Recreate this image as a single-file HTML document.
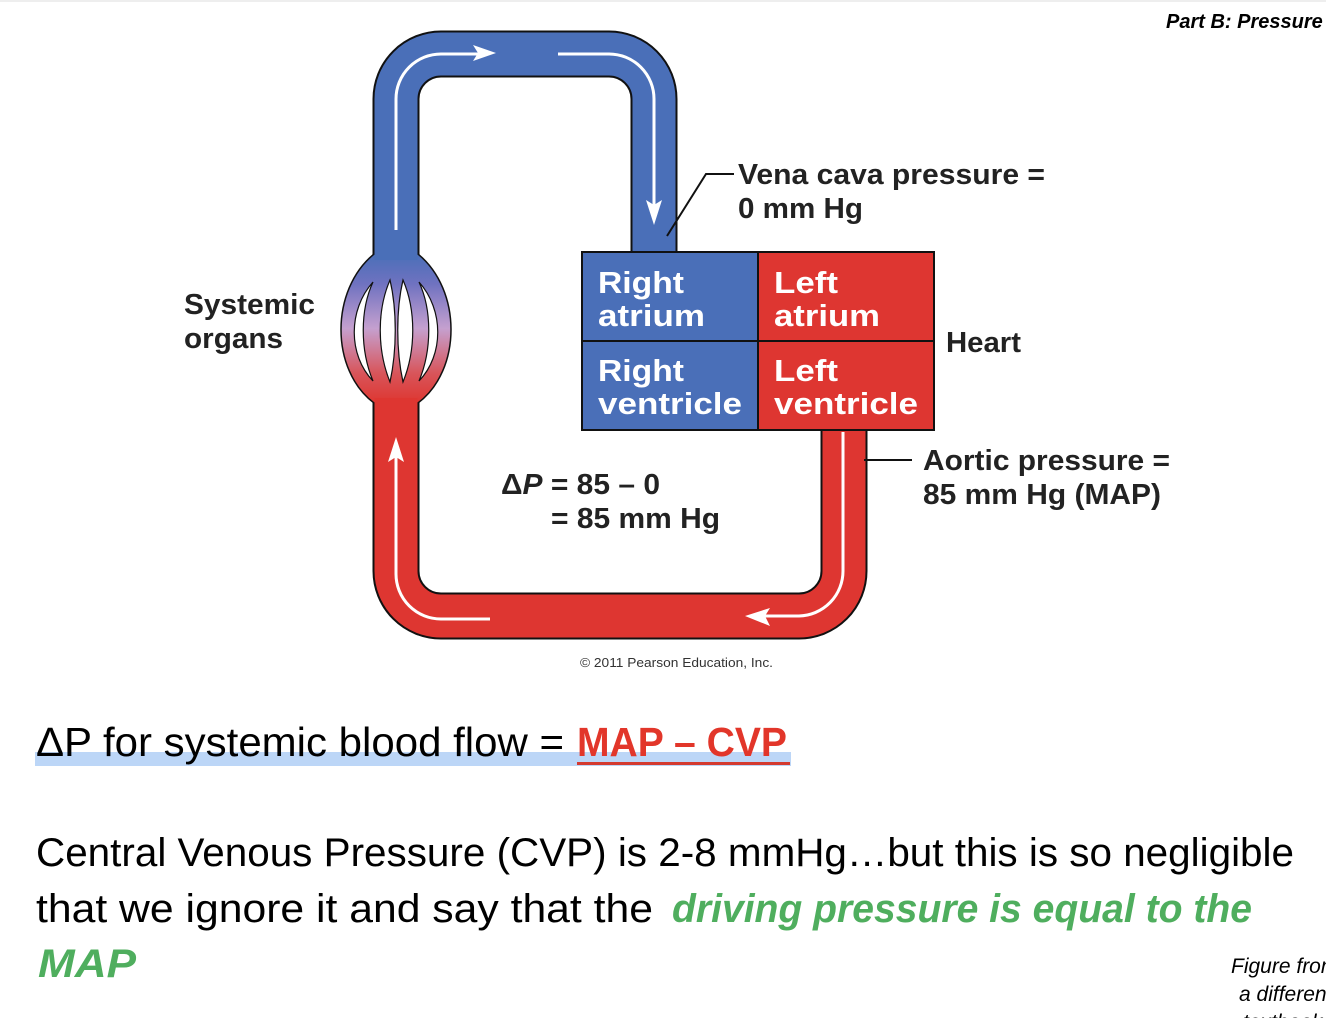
<!DOCTYPE html>
<html><head><meta charset="utf-8"><style>
html,body{margin:0;padding:0;background:#fff;}
svg{display:block;}
text{font-family:"Liberation Sans",Arial,sans-serif;}
</style></head><body>
<svg width="1326" height="1018" viewBox="0 0 1326 1018" xmlns="http://www.w3.org/2000/svg">
<defs>
<linearGradient id="bulb" x1="0" y1="0" x2="0" y2="1">
<stop offset="0" stop-color="#4a6fb8"/>
<stop offset="0.2" stop-color="#6f72c0"/>
<stop offset="0.5" stop-color="#c5a0cf"/>
<stop offset="0.8" stop-color="#d8555a"/>
<stop offset="1" stop-color="#de3631"/>
</linearGradient>
</defs>
<rect x="0" y="0" width="1326" height="2" fill="#eee"/>
<text x="1166" y="28" font-size="20" font-weight="bold" font-style="italic">Part B: Pressure</text>

<path d="M396,270 V99 A45,45 0 0 1 441,54 H609 A45,45 0 0 1 654,99 V254" fill="none" stroke="#111" stroke-width="47"/>
<path d="M396,272 V99 A45,45 0 0 1 441,54 H609 A45,45 0 0 1 654,99 V256" fill="none" stroke="#4a6fb8" stroke-width="43"/>
<path d="M396,390 V571 A45,45 0 0 0 441,616 H799 A45,45 0 0 0 844,571 V428" fill="none" stroke="#111" stroke-width="47"/>
<path d="M396,388 V571 A45,45 0 0 0 441,616 H799 A45,45 0 0 0 844,571 V426" fill="none" stroke="#de3631" stroke-width="43"/>
<path d="M374,254 C330,290 330,370 374,403 H418 C462,370 462,290 418,254 Z" fill="url(#bulb)" stroke="#111" stroke-width="1.5"/>
<rect x="374.5" y="240" width="43" height="20" fill="#4a6fb8"/>
<rect x="374.5" y="398" width="43" height="20" fill="#de3631"/>
<g fill="#fff" stroke="#111" stroke-width="1.2">
<path d="M373,282 C348,310 348,355 373,381 C360,350 360,310 373,282Z"/>
<path d="M390,280 C377,310 377,350 390,382 C397,350 397,310 390,280Z"/>
<path d="M403,280 C416,310 416,350 403,382 C396,350 396,310 403,280Z"/>
<path d="M419,282 C444,310 444,355 419,381 C432,350 432,310 419,282Z"/>
</g>
<g fill="none" stroke="#fff" stroke-width="3">
<path d="M396,230 V99 A45,45 0 0 1 441,54 H480"/>
<path d="M558,54 H609 A45,45 0 0 1 654,99 V210"/>
<path d="M843,432 V571 A45,45 0 0 1 799,616 H760"/>
<path d="M490,619 H441 A45,45 0 0 1 396,574 V455"/>
</g>
<g fill="#fff">
<path d="M473,45 L496,53 L473,61 L478,53Z"/>
<path d="M646,200 L654,225 L662,200 L654,205Z"/>
<path d="M770,608 L745,616 L770,626 L765,616Z"/>
<path d="M388,462 L396,437 L404,462 L396,457Z"/>
</g>

<rect x="582" y="252" width="176" height="178" fill="#4a6fb8" stroke="#111" stroke-width="2"/>
<rect x="758" y="252" width="176" height="178" fill="#de3631" stroke="#111" stroke-width="2"/>
<line x1="582" y1="341" x2="934" y2="341" stroke="#111" stroke-width="2"/>
<g fill="#fff" font-weight="bold" font-size="31">
<text x="598" y="293" textLength="86" lengthAdjust="spacingAndGlyphs">Right</text><text x="598" y="326" textLength="107" lengthAdjust="spacingAndGlyphs">atrium</text>
<text x="598" y="381" textLength="86" lengthAdjust="spacingAndGlyphs">Right</text><text x="598" y="414" textLength="144" lengthAdjust="spacingAndGlyphs">ventricle</text>
<text x="774" y="293" textLength="64" lengthAdjust="spacingAndGlyphs">Left</text><text x="774" y="326" textLength="106" lengthAdjust="spacingAndGlyphs">atrium</text>
<text x="774" y="381" textLength="64" lengthAdjust="spacingAndGlyphs">Left</text><text x="774" y="414" textLength="144" lengthAdjust="spacingAndGlyphs">ventricle</text>
</g>

<g fill="#222" font-weight="bold" font-size="29">
<text x="184" y="314" textLength="131" lengthAdjust="spacingAndGlyphs">Systemic</text>
<text x="184" y="348" textLength="99" lengthAdjust="spacingAndGlyphs">organs</text>
<text x="946" y="352" textLength="75" lengthAdjust="spacingAndGlyphs">Heart</text>
<text x="738" y="184" textLength="307" lengthAdjust="spacingAndGlyphs">Vena cava pressure =</text>
<text x="738" y="218" textLength="125" lengthAdjust="spacingAndGlyphs">0 mm Hg</text>
<text x="923" y="470" textLength="247" lengthAdjust="spacingAndGlyphs">Aortic pressure =</text>
<text x="923" y="504" textLength="238" lengthAdjust="spacingAndGlyphs">85 mm Hg (MAP)</text>
<text x="501" y="494" textLength="159" lengthAdjust="spacingAndGlyphs">Δ<tspan font-style="italic">P</tspan> = 85 – 0</text>
<text x="551" y="528" textLength="169" lengthAdjust="spacingAndGlyphs">= 85 mm Hg</text>
</g>
<path d="M667,236 L706,174 H734" fill="none" stroke="#111" stroke-width="2"/>
<line x1="864" y1="460" x2="912" y2="460" stroke="#111" stroke-width="2"/>
<text x="580" y="667" font-size="13" fill="#333" textLength="193" lengthAdjust="spacingAndGlyphs">© 2011 Pearson Education, Inc.</text>

<rect x="35" y="752" width="756" height="14" fill="#bcd6f7"/>
<text x="36" y="756" font-size="41" textLength="528" lengthAdjust="spacingAndGlyphs">ΔP for systemic blood flow =</text>
<text x="577" y="756" font-size="41" font-weight="bold" fill="#e2362a" textLength="210" lengthAdjust="spacingAndGlyphs">MAP – CVP</text>
<rect x="577" y="762" width="213" height="3" fill="#d43a30"/>

<text x="36" y="866" font-size="40" textLength="1258" lengthAdjust="spacingAndGlyphs">Central Venous Pressure (CVP) is 2-8 mmHg…but this is so negligible</text>
<text x="36" y="922" font-size="40" textLength="617" lengthAdjust="spacingAndGlyphs">that we ignore it and say that the</text>
<text x="672" y="922" font-size="40" font-weight="bold" font-style="italic" fill="#4fae5e" textLength="580" lengthAdjust="spacingAndGlyphs">driving pressure is equal to the</text>
<text x="38" y="977" font-size="40" font-weight="bold" font-style="italic" fill="#4fae5e" textLength="98" lengthAdjust="spacingAndGlyphs">MAP</text>

<g font-size="21" font-style="italic">
<text x="1231" y="973">Figure from</text>
<text x="1239" y="1001">a different</text>
<text x="1243" y="1029">textbook</text>
</g>
</svg>
</body></html>
